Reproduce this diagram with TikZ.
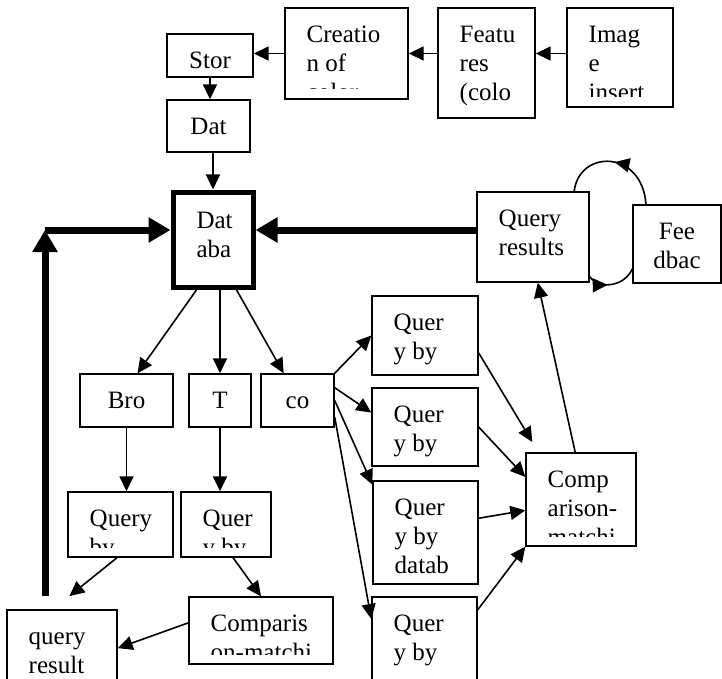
\documentclass[tikz,border=0pt]{standalone}
\usepackage{fontspec}
\setmainfont{Liberation Serif}
\usetikzlibrary{arrows.meta, decorations.markings}

\tikzset{
  cutgap/.initial=10pt,
  wbox/.style 2 args={draw, line width=1.4pt, inner sep=0pt, minimum width=#1pt, minimum height=#2pt},
  lines/.style={anchor=north west, align=left, inner sep=0pt, minimum width=0pt, minimum height=0pt,
    font=\fontsize{25}{29}\selectfont},
  clines/.style={lines, anchor=north, align=center},
  %text of a box, cut off above the bottom edge
  txt/.style 2 args={path picture={
    \clip (path picture bounding box.north west) rectangle ([yshift=\pgfkeysvalueof{/tikz/cutgap}]path picture bounding box.south east);
    \node[lines] (#1) at ([xshift=21pt,yshift=-13.7pt]path picture bounding box.north west) {\strut #2};}},
  ctxt/.style 2 args={path picture={
    \clip (path picture bounding box.north west) rectangle ([yshift=\pgfkeysvalueof{/tikz/cutgap}]path picture bounding box.south east);
    \node[clines] (#1) at ([yshift=-13.7pt]path picture bounding box.north) {\strut #2};}},
  arr/.style={line width=1.6pt, -{Triangle[length=15pt,width=14pt]}},
  fat/.style={line width=7pt, -{Triangle[length=22pt,width=24pt]}},
  midarr/.style={line width=1.6pt, postaction={decorate},
    decoration={markings, mark=at position #1 with {\arrow{Triangle[length=15pt,width=14pt]}}}}
}

\begin{document}
\begin{tikzpicture}[x=1pt, y=-1pt]
  \useasboundingbox (0,0) rectangle (722,679);
  %top row
  \node[wbox={106}{99}, txt={img-t}{Imag\\e\\insert}] (img) at (620,57.5) {};
  \node[wbox={97}{110}, txt={feat-t}{Featu\\res\\(colo\\r, tex}] (feat) at (486.5,63) {};
  \node[wbox={123}{91}, txt={creat-t}{Creatio\\n of\\color}] (creat) at (346.5,53.5) {};
  \node[wbox={86}{43}, cutgap=5pt, ctxt={stor-t}{Stor}] (stor) at (210,55.5) {};
  \node[wbox={83}{52}, ctxt={dat-t}{Dat}] (dat) at (208.5,126) {};
  %database and the query results loop
  \node[wbox={80}{95}, line width=5pt, txt={db-t}{Dat\\aba}] (db) at (213,239.5) {};
  \node[wbox={112}{90}, txt={qres-t}{Query\\results}] (qres) at (533,237) {};
  \node[wbox={88}{78}, ctxt={fb-t}{Fee\\dbac}] (fb) at (677,244) {};
  %left branches
  \node[wbox={93}{53}, ctxt={bro-t}{Bro}] (bro) at (126.5,400.5) {};
  \node[wbox={62}{53}, ctxt={t-t}{T}] (tb) at (220,400.5) {};
  \node[wbox={73}{53}, ctxt={co-t}{co}] (co) at (297.5,400.5) {};
  \node[wbox={105}{65}, txt={qbl-t}{Query\\by}] (qbl) at (120.5,524.5) {};
  \node[wbox={90}{65}, txt={qbm-t}{Quer\\y by}] (qbm) at (226,524.5) {};
  \node[wbox={110}{90}, txt={qr-t}{query\\result}] (qr) at (62,655) {};
  \node[wbox={144}{67}, txt={cmpl-t}{Comparis\\on-matchi}] (cmpl) at (261,630.5) {};
  %right column
  \node[wbox={106}{79}, txt={q1-t}{Quer\\y by}] (q1) at (425,335.5) {};
  \node[wbox={106}{78}, txt={q2-t}{Quer\\y by}] (q2) at (425,427) {};
  \node[wbox={105}{103}, txt={q3-t}{Quer\\y by\\datab}] (q3) at (425.5,532.5) {};
  \node[wbox={105}{103}, txt={q4-t}{Quer\\y by}] (q4) at (424.5,648.5) {};
  \node[wbox={110}{93}, txt={cmpr-t}{Comp\\arison-\\matchi}] (cmpr) at (581,499.5) {};

  %arrows of the top row
  \draw[arr] (img.west |- creat.west) -- (feat.east |- creat.west);
  \draw[arr] (feat.west |- creat.west) -- (creat.east);
  \draw[arr] (creat.west) -- (stor.east |- creat.west);
  \draw[arr] (stor.south) -- (stor.south |- dat.north);
  \draw[arr] (db.north |- dat.south) -- (db.north);
  %thick arrows into the database
  \coordinate (bend) at (45,230);
  \coordinate (foot) at (45,596);
  \draw[fat] (foot) -- (bend);
  \draw[fat] (bend) -- (bend -| db.west);
  \draw[fat] (bend -| qres.west) -- (bend -| db.east);
  %database down to the branches
  \draw[arr] (db.252) -- (bro.68);
  \draw[arr] (tb.north |- db.south) -- (tb.north);
  \draw[arr] (db.-65) -- (co.117);
  \draw[arr] (bro.south) -- (bro.south |- qbl.north);
  \draw[arr] (tb.south) -- (tb.south |- qbm.north);
  \draw[arr, shorten >=21pt] (qbl.264) -- ([xshift=-9pt]qr.north);
  \draw[arr] (qbm.282) -- (cmpl.north);
  \draw[arr] (cmpl.174) -- (qr.7);
  %co fans out to the four queries
  \draw[arr] (co.north east) -- (q1.west);
  \draw[arr] (co.19) -- (q2.165);
  \draw[arr] (co.east) -- (q3.138);
  \draw[arr] (co.-24) -- (q4.151);
  \draw[arr, shorten >=12pt] (q1.-18) -- (cmpr.132);
  \draw[arr] (q2.east) -- (cmpr.158);
  \draw[arr] (q3.15) -- (cmpr.191);
  \draw[arr] (q4.36) -- (cmpr.south west);
  \draw[arr] (cmpr.97) -- (qres.-84);
  %feedback loop
  \draw[midarr=0.5] (fb.128) .. controls +(-4,-55) and +(5,-42) .. (qres.48);
  \draw[midarr=0.4] (qres.-35) .. controls +(10,14) and +(-7,17) .. (fb.209);
\end{tikzpicture}
\end{document}
